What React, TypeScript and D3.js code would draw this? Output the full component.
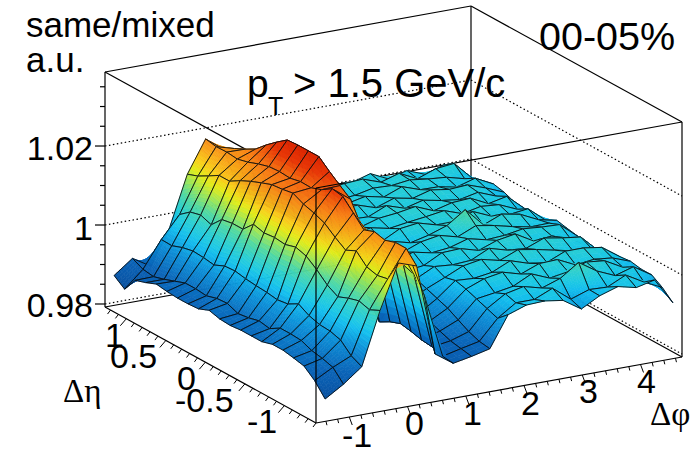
import React from "react";
import * as d3 from "d3";

// Surface heights as (z - 1) * 1e4. One row per delta-phi bin, one value per delta-eta node.
const zOffsets: number[][] = [
  [-151,-119,-97,-91,-86,-86,-94,-94,-94,-97,-95,-88,-99,-101,-101,-99,-95,-106,-115,-152,-132],
  [-122,-94,-86,-81,-70,-68,-68,-84,-79,-86,-90,-79,-81,-89,-86,-86,-96,-106,-114,-110,-97],
  [-86,-73,-48,-40,-38,-30,-15,-30,-34,-30,-28,-25,-20,-22,-34,-30,-28,-34,-44,-43,-125],
  [48,35,43,35,24,39,63,83,91,83,86,83,90,63,63,58,30,40,33,12,-40],
  [160,105,99,106,132,119,137,158,169,177,190,185,182,172,161,148,132,132,116,101,91],
  [144,174,174,165,172,162,190,217,222,205,195,196,190,192,190,182,172,165,168,167,172],
  [-87,45,85,95,100,105,120,135,187,207,228,251,251,251,249,229,207,182,167,154,137],
  [-119,-116,-107,-104,-97,-92,-102,-117,-70,-50,-20,0,10,20,30,30,30,30,20,10,0],
  [-110,-105,-100,-90,-80,-75,-60,-55,-45,-35,-30,-25,-15,-10,-10,-5,0,-10,-10,-5,0],
  [-99,-95,-85,-70,-55,-45,-35,-25,-20,-10,-15,-5,-10,0,-10,5,5,0,-5,0,-10],
  [-21,-45,-35,-25,-15,-8,-15,-2,-14,5,-10,3,-12,8,-5,0,10,-4,5,-6,0],
  [-5,-14,-6,-18,3,-11,6,-6,10,-5,8,-9,12,-2,9,-2,13,2,-4,10,-2],
  [-3,-14,4,-10,11,-4,14,-3,12,0,16,2,18,5,14,18,-2,12,0,15,-3],
  [-10,6,-8,13,-2,17,3,19,-1,14,4,18,5,11,22,3,14,2,10,18,-5],
  [-40,-30,8,-6,16,2,22,6,16,3,24,50,6,18,3,15,5,20,8,2,9],
  [-15,-14,40,2,18,-4,14,2,24,6,16,3,22,2,15,6,18,4,14,16,-13],
  [0,-16,10,18,-4,16,4,20,-2,14,5,22,2,12,18,0,11,3,8,-6,0],
  [-11,6,-10,13,2,16,-6,12,2,10,-4,13,-2,8,-4,10,14,-6,4,11,-18],
  [0,-20,4,-12,-3,9,-8,6,-12,8,-3,-9,4,-12,6,-8,-2,8,-8,16,-3],
  [-66,-42,-25,-25,-20,-23,-38,-38,-42,-30,-25,-19,-34,-39,-34,-32,-21,-15,-25,-30,-30],
];
const zTicksMajor = [0.98, 1, 1.02];
const zTicksMinor = [0.985, 0.99, 0.995, 1.005, 1.01, 1.015, 1.025, 1.03, 1.035];
const etaTicks = [1, 0.5, 0, -0.5, -1];
const phiTicks = [-1, 0, 1, 2, 3, 4];
const colorStops = [0.985, 0.99, 0.995, 0.9985, 1.0, 1.002, 1.005, 1.0075, 1.0105, 1.0125, 1.015, 1.018, 1.02, 1.022, 1.026];
const colorValues = ["#0850a0","#0a64b8","#0c90d8","#12bcee","#1cc8e4","#2ccfd0","#50d8a0","#90e460","#e0ec18","#f8d018","#f8a818","#f88018","#f06010","#e83808","#d82000"];

const PHI0 = -Math.PI / 2, PHI1 = (3 * Math.PI) / 2;
const ETA0 = -1.4, ETA1 = 1.27;
const Z0 = 0.97924, Z1 = 1.03874;
const ORIGIN = [316, 423];
const FONT = "'Liberation Sans', Arial, sans-serif";

const phiX = d3.scaleLinear().domain([PHI0, PHI1]).range([0, 366]);
const phiY = d3.scaleLinear().domain([PHI0, PHI1]).range([0, -66]);
const etaX = d3.scaleLinear().domain([ETA0, ETA1]).range([0, -211]);
const etaY = d3.scaleLinear().domain([ETA0, ETA1]).range([0, -116]);
const zY = d3.scaleLinear().domain([Z0, Z1]).range([0, -235]);
const color = d3.scaleLinear<string>().domain(colorStops).range(colorValues).interpolate(d3.interpolateRgb).clamp(true);

const project = (phi: number, eta: number, z: number): [number, number] => [
  ORIGIN[0] + phiX(phi) + etaX(eta),
  ORIGIN[1] + phiY(phi) + etaY(eta) + zY(z),
];

const nPhi = zOffsets.length;
const nEta = zOffsets[0].length;
const phiNode = d3.scaleLinear().domain([0, nPhi - 1]).range([PHI0 + Math.PI / 20, PHI1 - Math.PI / 20]);
const etaNode = d3.scaleLinear().domain([0, nEta - 1]).range([ETA0, ETA1]);
const zAt = (i: number, k: number) => 1 + zOffsets[i][k] * 1e-4;

const line = d3.line<[number, number]>().x(d => d[0]).y(d => d[1]);
const closed = (p: [number, number][]) => line(p) + "Z";

function surface() {
  const out: React.ReactNode[] = [];
  for (let i = nPhi - 2; i >= 0; i--) {
    for (let k = nEta - 2; k >= 0; k--) {
      const z00 = zAt(i, k), z10 = zAt(i + 1, k), z01 = zAt(i, k + 1), z11 = zAt(i + 1, k + 1);
      const lo = Math.min(z00, z10, z01, z11), hi = Math.max(z00, z10, z01, z11);
      const n = Math.max(1, Math.min(10, Math.ceil((hi - lo) / 0.001)));
      const pt = (u: number, v: number): [number, number, number] => {
        const z = (1 - u) * (1 - v) * z00 + u * (1 - v) * z10 + (1 - u) * v * z01 + u * v * z11;
        const [x, y] = project(phiNode(i + u), etaNode(k + v), z);
        return [x, y, z];
      };
      for (let a = n - 1; a >= 0; a--) {
        for (let b = n - 1; b >= 0; b--) {
          const c = [pt(a / n, b / n), pt((a + 1) / n, b / n), pt((a + 1) / n, (b + 1) / n), pt(a / n, (b + 1) / n)];
          const fill = color((c[0][2] + c[1][2] + c[2][2] + c[3][2]) / 4);
          out.push(
            <path key={`${i}-${k}-${a}-${b}`} d={closed(c.map(p => [p[0], p[1]] as [number, number]))}
              fill={fill} stroke={fill} strokeWidth={0.6} />
          );
        }
      }
      const outline: [number, number][] = [
        project(phiNode(i), etaNode(k), z00),
        project(phiNode(i + 1), etaNode(k), z10),
        project(phiNode(i + 1), etaNode(k + 1), z11),
        project(phiNode(i), etaNode(k + 1), z01),
      ];
      out.push(<path key={`o-${i}-${k}`} d={closed(outline)} fill="none" stroke="#080c10" strokeWidth={0.9} strokeLinejoin="round" />);
    }
  }
  return out;
}

const Seg = ({ a, b, dash, w = 1.2 }: { a: [number, number]; b: [number, number]; dash?: string; w?: number }) => (
  <line x1={a[0]} y1={a[1]} x2={b[0]} y2={b[1]} stroke="#000" strokeWidth={w} strokeDasharray={dash} />
);

export default function App() {
  const c = (phi: number, eta: number, z: number) => project(phi, eta, z);
  const FL = c(PHI0, ETA1, Z0), FF = c(PHI0, ETA0, Z0), FR = c(PHI1, ETA0, Z0), BK = c(PHI1, ETA1, Z0);
  const TL = c(PHI0, ETA1, Z1), TF = c(PHI0, ETA0, Z1), TR = c(PHI1, ETA0, Z1), TB = c(PHI1, ETA1, Z1);
  const frontTopEnd: [number, number] = [TF[0] + (TR[0] - TF[0]) * 0.08, TF[1] + (TR[1] - TF[1]) * 0.08];

  const minorEta = d3.range(-1.4, 1.25, 0.1).filter(v => Math.abs(v * 2 - Math.round(v * 2)) > 0.01);
  const minorPhi = d3.range(-1.4, 4.7, 0.2).filter(v => Math.abs(v - Math.round(v)) > 0.01);
  const txt = { fontFamily: FONT, fill: "#000" } as const;

  return (
    <svg width={696} height={472} style={{ position: "absolute", left: 0, top: 0, background: "#fff" }}>
      {/* back walls: dotted grid */}
      {zTicksMajor.map(z => (
        <g key={z}>
          <Seg a={c(PHI0, ETA1, z)} b={c(PHI1, ETA1, z)} dash="1.5 2.5" />
          <Seg a={c(PHI1, ETA1, z)} b={c(PHI1, ETA0, z)} dash="1.5 2.5" />
        </g>
      ))}
      {/* box */}
      <Seg a={FL} b={TL} /><Seg a={BK} b={TB} /><Seg a={FR} b={TR} />
      <Seg a={FL} b={BK} /><Seg a={BK} b={FR} />
      <Seg a={TL} b={TB} /><Seg a={TB} b={TR} /><Seg a={TL} b={TF} /><Seg a={TF} b={TR} />
      <Seg a={FL} b={FF} /><Seg a={FF} b={FR} />
      {/* z ticks */}
      {zTicksMajor.map(z => { const p = c(PHI0, ETA1, z); return <Seg key={z} a={p} b={[p[0] - 10, p[1]]} />; })}
      {zTicksMinor.map(z => { const p = c(PHI0, ETA1, z); return <Seg key={z} a={p} b={[p[0] - 5, p[1]]} />; })}
      {/* eta ticks */}
      {etaTicks.map(e => { const p = c(PHI0, e, Z0); return <Seg key={e} a={p} b={[p[0] - 6, p[1] + 7]} w={1} />; })}
      {minorEta.map(e => { const p = c(PHI0, e, Z0); return <Seg key={e} a={p} b={[p[0] - 3, p[1] + 4]} w={1} />; })}
      {/* phi ticks */}
      {phiTicks.map(v => { const p = c(v, ETA0, Z0); return <Seg key={v} a={p} b={[p[0] + 3, p[1] + 8]} w={1} />; })}
      {minorPhi.map(v => { const p = c(v, ETA0, Z0); return <Seg key={v} a={p} b={[p[0] + 1, p[1] + 4]} w={1} />; })}

      {surface()}

      {/* front edges on top of the surface */}
      <Seg a={FF} b={TF} />
      <Seg a={TF} b={frontTopEnd} />

      <g {...txt} fontSize={35}>
        <text x={26} y={37}>same/mixed</text>
        <text x={26} y={72}>a.u.</text>
        <text x={93} y={160} textAnchor="end" fontSize={34}>1.02</text>
        <text x={93} y={240} textAnchor="end" fontSize={34}>1</text>
        <text x={93} y={317} textAnchor="end" fontSize={34}>0.98</text>
        <text x={247} y={97} fontSize={39}>p</text>
        <text x={268} y={115} fontSize={25}>T</text>
        <text x={293} y={97} fontSize={40}>&gt; 1.5 GeV/c</text>
        <text x={539} y={50} fontSize={39.5}>00-05%</text>
      </g>
      <g {...txt} fontSize={34}>
        {[["1", 105, 347], ["0.5", 110, 368], ["0", 177, 390], ["-0.5", 175, 412], ["-1", 247, 433]].map(([t, x, y]) => (
          <text key={String(t)} x={x as number} y={y as number}>{t}</text>
        ))}
        {[["-1", 342, 447], ["0", 405, 435], ["1", 463, 425], ["2", 521, 415], ["3", 579, 403], ["4", 637, 393]].map(([t, x, y]) => (
          <text key={String(t)} x={x as number} y={y as number}>{t}</text>
        ))}
      </g>
      <text x={63} y={402} fontFamily="'Liberation Serif', serif" fontSize={33} fill="#000">Δη</text>
      <text x={650} y={425} fontFamily="'Liberation Serif', serif" fontSize={33} fill="#000">Δφ</text>
    </svg>
  );
}
